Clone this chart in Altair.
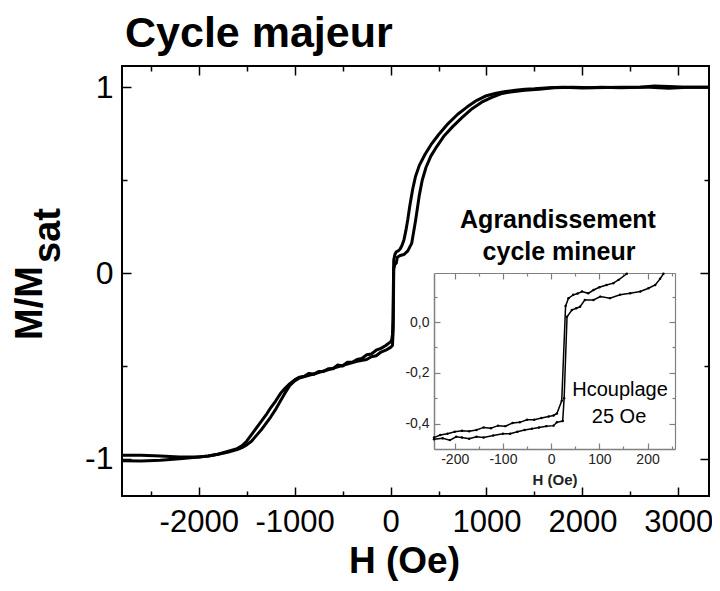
import altair as alt
import pandas as pd

FONT = "Liberation Sans"

# ---------------- main loop (H in Oe, M/Msat) ----------------
desc_H = [3320, 3100, 2900, 2750, 2600, 2400, 2200, 2000, 1800, 1650, 1500, 1400, 1300, 1200,
          1100, 1000, 900, 800, 700, 600, 500, 420, 360, 300, 260, 230, 200, 180, 160, 140,
          120, 100, 80, 60, 45, 33, 25, 20, 12, 0, -50, -100, -150, -200, -250, -300, -350,
          -400, -450, -500, -550, -600, -650, -700, -750, -800, -850, -900, -950, -1000,
          -1050, -1100, -1150, -1200, -1250, -1300, -1350, -1400, -1450, -1500, -1550,
          -1600, -1700, -1800, -1900, -2000, -2200, -2400, -2600, -2800]
desc_M = [1.0, 1.0, 1.005, 1.008, 1.0, 0.998, 1.0, 0.997, 1.0, 0.998, 0.992, 0.99, 0.984, 0.978,
          0.968, 0.955, 0.93, 0.895, 0.855, 0.805, 0.745, 0.69, 0.64, 0.58, 0.52, 0.45, 0.36,
          0.29, 0.23, 0.18, 0.15, 0.13, 0.12, 0.115, 0.10, 0.07, -0.25, -0.33, -0.36, -0.37,
          -0.39, -0.405, -0.415, -0.435, -0.44, -0.46, -0.465, -0.48, -0.48, -0.5, -0.495,
          -0.515, -0.515, -0.53, -0.53, -0.545, -0.54, -0.555, -0.56, -0.575, -0.595, -0.62,
          -0.65, -0.69, -0.725, -0.765, -0.80, -0.835, -0.87, -0.905, -0.93, -0.945, -0.96,
          -0.975, -0.985, -0.99, -0.99, -0.985, -0.98, -0.98]

asc_H = [-2800, -2600, -2400, -2200, -2000, -1900, -1800, -1700, -1600, -1550, -1500, -1450,
         -1400, -1350, -1300, -1250, -1200, -1150, -1100, -1050, -1000, -950, -850, -750,
         -650, -550, -450, -350, -250, -200, -150, -100, -50, 0, 20, 28, 33, 43, 60, 70, 100,
         140, 180, 220, 260, 300, 330, 370, 420, 480, 560, 650, 750, 850, 950, 1050, 1150,
         1250, 1400, 1550, 1700, 1900, 2100, 2400, 2700, 2900, 3100, 3320]
asc_M = [-1.01, -1.012, -1.008, -1.0, -0.99, -0.985, -0.975, -0.965, -0.95, -0.94, -0.925,
         -0.905, -0.875, -0.845, -0.81, -0.775, -0.735, -0.69, -0.645, -0.605, -0.58, -0.565,
         -0.55, -0.535, -0.52, -0.505, -0.49, -0.475, -0.465, -0.45, -0.445, -0.425, -0.415,
         -0.40, -0.39, -0.30, 0.02, 0.045, 0.055, 0.085, 0.095, 0.10, 0.12, 0.16, 0.28, 0.42,
         0.50, 0.57, 0.63, 0.68, 0.74, 0.79, 0.84, 0.885, 0.92, 0.945, 0.965, 0.975, 0.985,
         0.99, 0.998, 1.0, 0.998, 1.0, 1.0, 0.995, 1.0, 1.0]

# ---------------- inset (minor loop) ----------------
in_desc_H = [157, 140, 129, 115, 100, 88, 77, 64, 55, 46, 36, 30, 22, 12, 5, -5, -20, -35, -50,
             -65, -80, -95, -110, -125, -140, -155, -170, -185, -200, -215, -230, -243]
in_desc_M = [0.19, 0.166, 0.153, 0.146, 0.137, 0.126, 0.113, 0.12, 0.112, 0.107, 0.094, 0.063,
             -0.31, -0.36, -0.368, -0.372, -0.378, -0.385, -0.385, -0.395, -0.398, -0.41, -0.408,
             -0.418, -0.415, -0.425, -0.43, -0.428, -0.432, -0.44, -0.445, -0.455]
in_asc_H = [-243, -225, -210, -197, -185, -170, -155, -140, -120, -100, -85, -70, -55, -40, -25,
            -10, 5, 12, 24, 27, 33, 43, 52, 60, 70, 88, 102, 122, 143, 164, 185, 202, 216, 226,
            233]
in_asc_M = [-0.462, -0.458, -0.465, -0.452, -0.455, -0.46, -0.452, -0.455, -0.447, -0.44, -0.44,
            -0.432, -0.425, -0.42, -0.415, -0.41, -0.408, -0.395, -0.39, -0.30, 0.021, 0.047,
            0.054, 0.06, 0.087, 0.087, 0.1, 0.094, 0.107, 0.113, 0.12, 0.133, 0.146, 0.17, 0.19]

# axes values
main_x_labels = [-2000, -1000, 0, 1000, 2000, 3000]
main_x_minor = [-2500, -1500, -500, 500, 1500, 2500]
main_y_labels = [-1, 0, 1]
main_y_minor = [-0.5, 0.5]
inset_x_labels = [-200, -100, 0, 100, 200]
inset_x_minor = [-150, -50, 50, 150, 250]
inset_y_labels = [-0.4, -0.2, 0.0]
inset_y_minor = [-0.3, -0.1, 0.1]

title_text = "Cycle majeur"
y_title_main = "M/M"
y_title_sub = "sat"
x_title = "H (Oe)"
inset_title = ["Agrandissement", "cycle mineur"]
inset_note = ["Hcouplage", "25 Oe"]


def frame(h, m, name):
    return pd.DataFrame({"H": h, "M": m, "branch": name, "i": range(len(h))})


main_df = pd.concat([frame(desc_H, desc_M, "desc"), frame(asc_H, asc_M, "asc")])
inset_df = pd.concat([frame(in_desc_H, in_desc_M, "desc"), frame(in_asc_H, in_asc_M, "asc")])

W, H = 587, 430
X_MAIN = alt.Scale(domain=[-2800, 3320], nice=False, zero=False)
Y_MAIN = alt.Scale(domain=[-1.2, 1.115], nice=False, zero=False)
X_IN = alt.Scale(domain=[-243, 257], range=[312, 553], nice=False, zero=False)
Y_IN = alt.Scale(domain=[-0.5, 0.193], range=[383, 207], nice=False, zero=False)

LBL = "toString(datum.value)"
LBL_COMMA = "replace(replace(format(datum.value, '.1f'), '.', ','), '\u2212', '-')"


def tick_axis(orient, offset, values, size, color, width, domain=False):
    kw = dict(orient=orient, offset=offset, values=values, labels=False, grid=False,
              title=None, domain=domain, tickColor=color, tickWidth=width, tickSize=size)
    if domain:
        kw.update(domainColor=color, domainWidth=width)
    return alt.Axis(**kw)


def tick_layer(df, xs, ys, xo, xoff, yo, yoff, xv, yv, size, color, width, domain=False):
    return alt.Chart(df).mark_point(opacity=0).encode(
        x=alt.X("H:Q", scale=xs, axis=tick_axis(xo, xoff, xv, size, color, width, domain)),
        y=alt.Y("M:Q", scale=ys, axis=tick_axis(yo, yoff, yv, size, color, width, domain)),
    )


def lab_axis(orient, values, expr, size, pad, color, title=None, **extra):
    kw = dict(orient=orient, values=values, labelExpr=expr, labelFontSize=size, labelFont=FONT,
              labelColor=color, labelPadding=pad, tickSize=0, grid=False, labelFlush=False,
              labelOverlap=False)
    if title is None:
        kw["title"] = None
    else:
        kw["title"] = title
    kw.update(extra)
    return alt.Axis(**kw)


# ---- main layers ----
main_lines = alt.Chart(main_df).mark_line(color="black", strokeWidth=3, strokeJoin="round").encode(
    x=alt.X("H:Q", scale=X_MAIN,
            axis=lab_axis("bottom", main_x_labels, LBL, 31, 11, "black", x_title, domain=False,
                          titleFontSize=37, titleFont=FONT, titleFontWeight="bold",
                          titleColor="black", titlePadding=6, titleX=282)),
    y=alt.Y("M:Q", scale=Y_MAIN,
            axis=lab_axis("left", main_y_labels, LBL, 32, 9, "black", domain=False)),
    detail="branch:N",
    order="i:Q",
)

main_ticks = [
    tick_layer(main_df, X_MAIN, Y_MAIN, "top", -H, "right", -W, main_x_labels, main_y_labels, 9, "black", 1.5),
    tick_layer(main_df, X_MAIN, Y_MAIN, "bottom", -H, "left", -W, main_x_labels, main_y_labels, 9, "black", 1.5),
    tick_layer(main_df, X_MAIN, Y_MAIN, "top", -H, "right", -W, main_x_minor, main_y_minor, 5, "black", 1.5),
    tick_layer(main_df, X_MAIN, Y_MAIN, "bottom", -H, "left", -W, main_x_minor, main_y_minor, 5, "black", 1.5),
]

# ---- inset layers ----
GREY = "#808080"
inset_lines = alt.Chart(inset_df).mark_line(
    color="black", strokeWidth=1.5,
    point=alt.OverlayMarkDef(filled=True, size=6, color="black"),
).encode(
    x=alt.X("H:Q", scale=X_IN,
            axis=lab_axis("bottom", inset_x_labels, LBL, 14, 3, "#222", x_title, offset=-47,
                          domain=True, domainColor=GREY, domainWidth=1.5,
                          titleFontSize=15, titleFont=FONT, titleFontWeight="bold",
                          titleColor="#222", titlePadding=6)),
    y=alt.Y("M:Q", scale=Y_IN,
            axis=lab_axis("left", inset_y_labels, LBL_COMMA, 14, 5, "#222", offset=-312,
                          domain=True, domainColor=GREY, domainWidth=1.5)),
    detail="branch:N",
    order="i:Q",
)

inset_ticks = [
    tick_layer(inset_df, X_IN, Y_IN, "top", -383, "right", 312 - W, inset_x_labels, inset_y_labels, 6, GREY, 1.2),
    tick_layer(inset_df, X_IN, Y_IN, "bottom", 207 - H, "left", -553, inset_x_labels, inset_y_labels, 6, GREY, 1.2, True),
    tick_layer(inset_df, X_IN, Y_IN, "top", -383, "right", 312 - W, inset_x_minor, inset_y_minor, 3, GREY, 1.2),
    tick_layer(inset_df, X_IN, Y_IN, "bottom", 207 - H, "left", -553, inset_x_minor, inset_y_minor, 3, GREY, 1.2),
]


# ---- texts ----
def text(t, x, y, size, weight="normal", align="left", angle=0):
    return alt.Chart(pd.DataFrame({"t": [t]})).mark_text(
        font=FONT, fontSize=size, fontWeight=weight, align=align, baseline="alphabetic",
        angle=angle, color="black",
    ).encode(text="t:N", x=alt.value(x), y=alt.value(y))


texts = [
    text(title_text, 3, -19, 43, "bold"),
    text(y_title_main, -80, 274, 38, "bold", angle=270),
    text(y_title_sub, -62, 197, 38, "bold", angle=270),
    text(inset_title[0], 436, 162, 25, "bold", align="center"),
    text(inset_title[1], 437, 194, 25, "bold", align="center"),
    text(inset_note[0], 498, 330, 20, align="center"),
    text(inset_note[1], 497, 357, 20, align="center"),
]

chart = alt.layer(
    main_lines, *main_ticks, inset_lines, *inset_ticks, *texts
).resolve_scale(
    x="independent", y="independent"
).resolve_axis(
    x="independent", y="independent"
).properties(
    width=W, height=H,
    autosize=alt.AutoSizeParams(type="none"),
    padding={"left": 114, "top": 58, "right": 3, "bottom": 87},
).configure_view(
    stroke="black", strokeWidth=2
).configure_axis(grid=False)

chart.save("out.html", embed_options={"renderer": "svg", "actions": False})
